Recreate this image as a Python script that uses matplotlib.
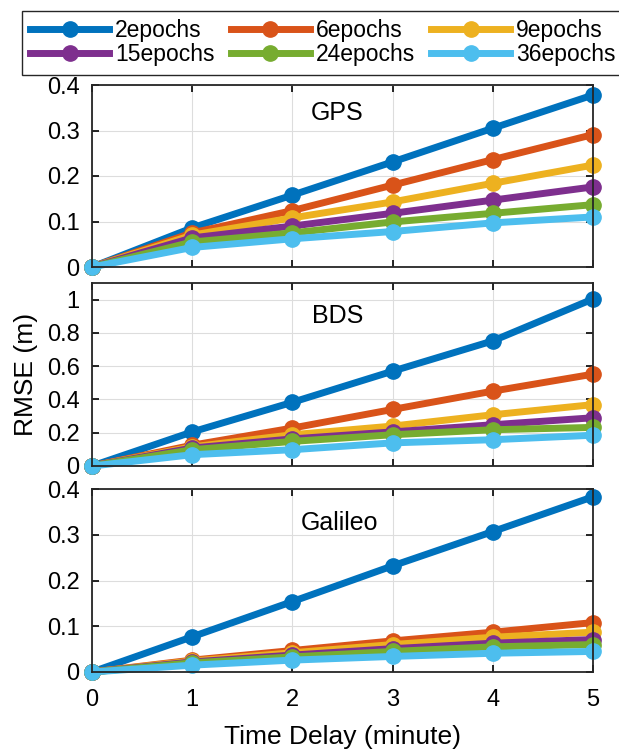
import matplotlib
matplotlib.use('Agg')
import matplotlib.pyplot as plt

plt.rcParams['font.family'] = ['Liberation Sans', 'DejaVu Sans']

delay = [0, 1, 2, 3, 4, 5]
labels = ['2epochs', '6epochs', '9epochs', '15epochs', '24epochs', '36epochs']
colors = ['#0072BD', '#D95319', '#EDB120', '#7E2F8E', '#77AC30', '#4DBEEE']

gps_2 = [0, 0.086, 0.158, 0.231, 0.305, 0.378]
gps_6 = [0, 0.075, 0.124, 0.180, 0.236, 0.291]
gps_9 = [0, 0.070, 0.108, 0.143, 0.184, 0.224]
gps_15 = [0, 0.064, 0.090, 0.118, 0.147, 0.176]
gps_24 = [0, 0.055, 0.075, 0.099, 0.118, 0.137]
gps_36 = [0, 0.043, 0.062, 0.078, 0.097, 0.110]

bds_2 = [0, 0.205, 0.383, 0.570, 0.752, 1.004]
bds_6 = [0, 0.125, 0.228, 0.340, 0.450, 0.552]
bds_9 = [0, 0.115, 0.188, 0.240, 0.308, 0.369]
bds_15 = [0, 0.108, 0.163, 0.205, 0.248, 0.290]
bds_24 = [0, 0.098, 0.148, 0.188, 0.218, 0.232]
bds_36 = [0, 0.068, 0.098, 0.139, 0.158, 0.185]

gal_2 = [0, 0.077, 0.154, 0.232, 0.307, 0.383]
gal_6 = [0, 0.026, 0.047, 0.068, 0.087, 0.108]
gal_9 = [0, 0.024, 0.042, 0.060, 0.076, 0.087]
gal_15 = [0, 0.022, 0.037, 0.051, 0.063, 0.071]
gal_24 = [0, 0.020, 0.033, 0.045, 0.055, 0.060]
gal_36 = [0, 0.015, 0.026, 0.034, 0.041, 0.045]

panels = [
    ('GPS', [gps_2, gps_6, gps_9, gps_15, gps_24, gps_36], 0.4, [0, 0.1, 0.2, 0.3, 0.4], (2.45, 0.338)),
    ('BDS', [bds_2, bds_6, bds_9, bds_15, bds_24, bds_36], 1.1, [0, 0.2, 0.4, 0.6, 0.8, 1], (2.45, 0.90)),
    ('Galileo', [gal_2, gal_6, gal_9, gal_15, gal_24, gal_36], 0.4, [0, 0.1, 0.2, 0.3, 0.4], (2.47, 0.326)),
]

W, H = 619, 751
fig = plt.figure(figsize=(W / 100, H / 100), dpi=100)
# pixel boxes (top, bottom) of each panel
boxes = [(85, 267), (283, 466), (489, 672)]
left, right = 92, 593

lines = []
for (name, series, ymax, yticks, txt), (top, bot) in zip(panels, boxes):
    ax = fig.add_axes([left / W, 1 - bot / H, (right - left) / W, (bot - top) / H])
    for s, c, lab in zip(series, colors, labels):
        ln, = ax.plot(delay, s, color=c, linewidth=5, marker='o', markersize=11,
                      label=lab, clip_on=False)
        lines.append(ln)
    ax.set_xlim(0, 5)
    ax.set_ylim(0, ymax)
    ax.set_yticks(yticks)
    ax.set_yticklabels(['0' if v == 0 else ('%g' % v) for v in yticks])
    ax.set_xticks(delay)
    ax.grid(True, color='#dddddd', linewidth=0.8)
    ax.set_axisbelow(True)
    ax.tick_params(direction='in', top=True, right=True, labelsize=17, length=5, width=1.2)
    ax.tick_params(axis='y', pad=9)
    ax.tick_params(axis='x', pad=12)
    for sp in ax.spines.values():
        sp.set_linewidth(1.3)
        sp.set_color('#262626')
    ax.text(txt[0], txt[1], name, ha='center', va='center', fontsize=18)
    if name != 'Galileo':
        ax.set_xticklabels([])
    else:
        ax.set_xlabel('Time Delay (minute)', fontsize=19, labelpad=10)
    if name == 'BDS':
        ax.set_ylabel('RMSE (m)', fontsize=19, labelpad=6)

# row-wise legend order: matplotlib fills columns first
order = [0, 3, 1, 4, 2, 5]
fig.legend([lines[i] for i in order], [labels[i] for i in order], loc='upper left',
           bbox_to_anchor=(22 / W, 1 - 11 / H),
           ncol=3, fontsize=16.5, handlelength=3.45, handletextpad=0.26, columnspacing=0.7,
           labelspacing=0.05, borderpad=0.36, fancybox=False, edgecolor='#262626',
           framealpha=1, borderaxespad=0)

fig.savefig('out.png', dpi=100)
